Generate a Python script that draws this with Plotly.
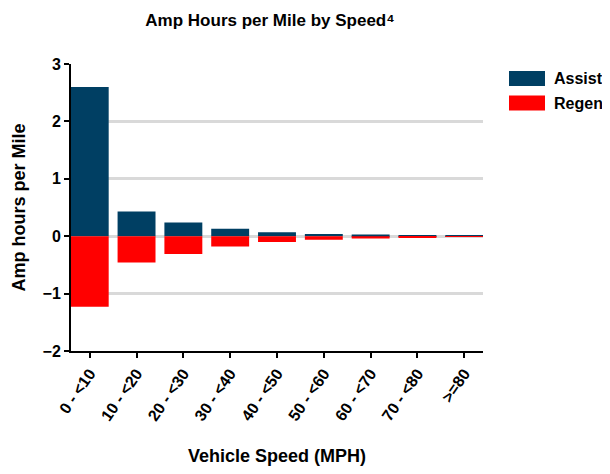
import plotly.graph_objects as go

categories = ["0 - <10", "10 - <20", "20 - <30", "30 - <40", "40 - <50",
              "50 - <60", "60 - <70", "70 - <80", ">=80"]
assist = [2.60, 0.43, 0.24, 0.13, 0.07, 0.04, 0.03, 0.02, 0.005]
regen = [-1.23, -0.46, -0.31, -0.18, -0.10, -0.06, -0.04, -0.03, -0.01]
series_names = ["Assist", "Regen"]
series_colors = ["#003F63", "#FF0000"]

FONT = "Liberation Sans, Arial, sans-serif"
W, H = 594, 458
L, R, T, B = 63, 119, 56, 115
PW, PH = W - L - R, H - T - B


def px_x(x):
    return (x - L) / PW


def px_y(y):
    return 1 - (y - T) / PH


fig = go.Figure()
for name, vals, col in zip(series_names, [assist, regen], series_colors):
    fig.add_trace(go.Bar(x=categories, y=vals, name=name,
                         marker=dict(color=col, line=dict(width=0)), width=0.81))

# custom legend with wide rectangular swatches
for i, (name, col) in enumerate(zip(series_names, series_colors)):
    top = 63 + i * 24.5
    fig.add_shape(type="rect", xref="paper", yref="paper",
                  x0=px_x(501), x1=px_x(537), y0=px_y(top + 15), y1=px_y(top),
                  fillcolor=col, line=dict(width=0))
    fig.add_annotation(text=name, xref="paper", yref="paper", showarrow=False,
                       x=px_x(544), y=px_y(top + 7.5), xanchor="left", yanchor="middle",
                       font=dict(size=16, weight="bold", color="black"))

fig.update_layout(
    width=W, height=H,
    barmode="relative",
    plot_bgcolor="white", paper_bgcolor="white",
    font=dict(family=FONT, size=15, color="black", weight="bold"),
    margin=dict(l=L, r=R, t=T, b=B, autoexpand=False),
    title=dict(text="Amp Hours per Mile by Speed⁴", x=(262 / W), xanchor="center",
               xref="container", y=1 - 12 / H, yanchor="middle",
               font=dict(size=17, weight="bold")),
    showlegend=False,
)
fig.update_xaxes(
    range=[-0.4, 8.4], showgrid=False, showline=True, linecolor="black", linewidth=2,
    ticks="outside", ticklen=5, tickcolor="black", tickwidth=2, tickangle=-55,
    tickfont=dict(size=16, weight="bold"), automargin=False,
    title=dict(text="Vehicle Speed (MPH)", font=dict(size=18, weight="bold"), standoff=26),
)
fig.update_yaxes(
    range=[-2, 3], dtick=1, showgrid=True, gridcolor="#d9d9d9", gridwidth=3,
    zeroline=True, zerolinecolor="#d9d9d9", zerolinewidth=3,
    showline=True, linecolor="black", linewidth=2,
    ticks="outside", ticklen=5, tickcolor="black", tickwidth=2,
    tickfont=dict(size=16, weight="bold"), automargin=False,
    title=dict(text="Amp hours per Mile", font=dict(size=18, weight="bold"), standoff=12),
)

fig.write_html("out.html")
